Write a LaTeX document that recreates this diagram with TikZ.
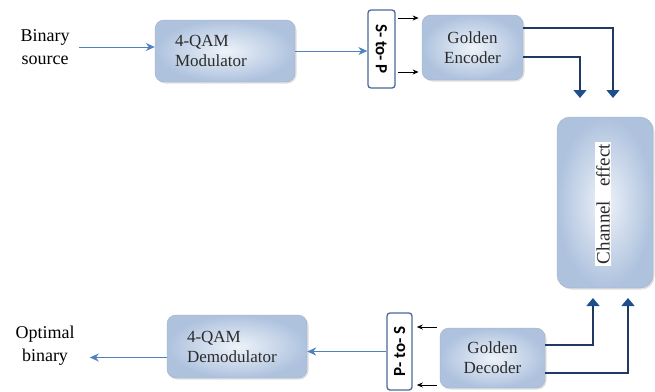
\documentclass[tikz,border=0pt]{standalone}
\usepackage{fontspec}
\setmainfont{Liberation Serif}
\newfontfamily\convfont{Carlito}
\usetikzlibrary{arrows.meta,shadows}

\definecolor{boxedge}{HTML}{9DB0CC}
\definecolor{boxlight}{HTML}{EEF3F9}
\definecolor{boxdark}{HTML}{AEC2DE}
\definecolor{boxtext}{HTML}{2B2B2B}
\definecolor{flowblue}{HTML}{4F81BD}
\definecolor{navyline}{HTML}{1F3864}
\definecolor{navytip}{HTML}{1F4E8C}
\definecolor{convedge}{HTML}{4A6A9A}

\begin{document}
\begin{tikzpicture}[x=1pt,y=-1pt,
  block/.style={draw=boxedge, rounded corners=9pt, inner color=boxlight, outer color=boxdark,
    drop shadow={opacity=0.25,shadow xshift=1.5pt,shadow yshift=-1.5pt},
    text=boxtext, font=\fontsize{17}{20}\selectfont},
  conv/.style={draw=convedge, line width=1.3pt, rounded corners=3pt, fill=white, inner sep=0pt},
  convtext/.style={font=\convfont\bfseries\fontsize{17}{17}\selectfont},
  flow/.style={draw=flowblue, line width=1pt, -{Stealth[length=9pt,width=8pt]}},
  pair/.style={draw=black, line width=1pt, -{Stealth[length=6pt,width=5pt]}},
  link/.style={draw=navyline, line width=1.2pt, -{Triangle[length=8pt,width=13pt,color=navytip]}},
  ]
\useasboundingbox (0,0) rectangle (655,391);

% Transmitter
\node[font=\fontsize{18}{23}\selectfont, align=center] (src) at (45,47) {Binary\\source};
\node[block, minimum width=140pt, minimum height=62pt, text width=100pt, align=left] (mod) at (225,51) {4-QAM\\Modulator};
\node[conv, minimum width=27pt, minimum height=78pt] (stp) at (381.5,49) {};
\node[convtext, rotate=-90] (stplabel) at (stp) {S- to- P};
\node[block, minimum width=101pt, minimum height=65pt, align=center] (enc) at (472.5,47.5) {Golden\\Encoder};

% Channel
\node[block, rounded corners=13pt, minimum width=96pt, minimum height=171pt] (chan) at (605,202.5) {};
\node[fill=white, rotate=90, inner xsep=2pt, inner ysep=1pt, text=boxtext, font=\fontsize{19}{19}\selectfont] (chanlabel) at (603,204) {Channel\hspace{14pt}effect};

% Receiver
\node[block, minimum width=105pt, minimum height=60pt, align=center] (dec) at (492.5,358) {Golden\\Decoder};
\node[conv, minimum width=25pt, minimum height=77pt] (pts) at (399.5,351.5) {};
\node[convtext, rotate=90] (ptslabel) at (pts) {P- to- S};
\node[block, minimum width=140pt, minimum height=63pt, text width=100pt, align=left] (demod) at (237,346.5) {4-QAM\\Demodulator};
\node[font=\fontsize{18}{23}\selectfont, align=center] (out) at (45,346) {Optimal\\binary};

% Channel inputs and outputs
\coordinate (in1) at (613,98);
\coordinate (in2) at (580,98);
\coordinate (in3) at (593,298);
\coordinate (in4) at (628,298);

% Forward path
\draw[flow, shorten <=6pt] (src.east) -- (src.east -| mod.west);
\draw[flow] (mod.east) -- (mod.east -| stp.west);
\draw[pair, shorten <=2pt] ([yshift=31pt]stp.east) -- ++(23,0);
\draw[pair, shorten <=2pt] ([yshift=-23pt]stp.east) -- ++(23,0);
\draw[link] ([yshift=19.5pt]enc.east) -| (in1);
\draw[link] ([yshift=-9.5pt]enc.east) -| (in2);

% Return path
\draw[link] ([yshift=13pt]dec.east) -| (in3);
\draw[link] ([yshift=-15pt]dec.east) -| (in4);
\draw[pair, shorten <=3pt] ([yshift=31pt]dec.west) -- ++(-23,0);
\draw[pair, shorten <=3pt] ([yshift=-27pt]dec.west) -- ++(-23,0);
\draw[flow] (pts.west) -- (pts.west -| demod.east);
\draw[flow] ([yshift=-11pt]demod.west) -- ++(-77,0);

\end{tikzpicture}
\end{document}
